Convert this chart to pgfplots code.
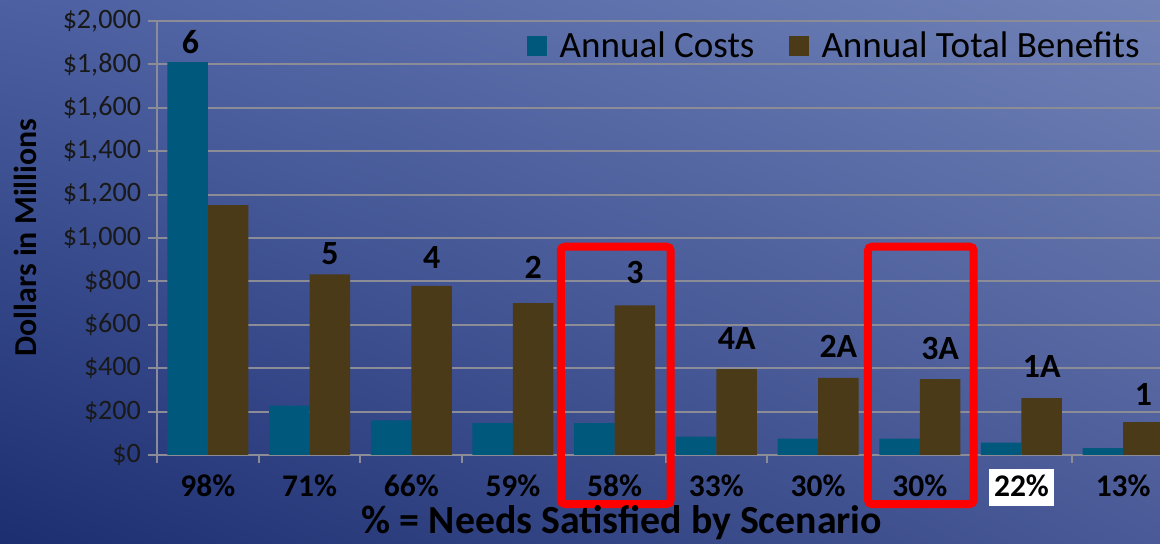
\documentclass[border=0pt]{standalone}
\usepackage{fontspec}
\setmainfont{Carlito}
\usepackage{pgfplots}
\pgfplotsset{compat=1.18}
\usetikzlibrary{shadings}
\definecolor{costc}{RGB}{0,88,125}
\definecolor{benc}{RGB}{74,58,24}
\definecolor{gridc}{RGB}{140,140,150}
\definecolor{bgul}{RGB}{76,96,162}
\definecolor{bgur}{RGB}{112,130,182}
\definecolor{bgll}{RGB}{28,46,112}
\definecolor{bglr}{RGB}{74,90,152}
\setlength{\fboxsep}{2.5bp}
\begin{document}
\begin{tikzpicture}
\path[use as bounding box] (0,0) rectangle (580bp,272bp);
\shade[upper left=bgul, upper right=bgur, lower left=bgll, lower right=bglr] (0,0) rectangle (580bp,272bp);
\begin{axis}[
  at={(78.5bp,44.5bp)}, anchor=south west,
  scale only axis, width=501.5bp, height=217bp,
  ymin=0, ymax=2000, xmin=-0.5, xmax=9.362,
  ybar=0pt, bar width=20.25bp,
  axis x line*=bottom, axis y line*=left,
  axis line style={draw=gridc, line width=1bp, -},
  ytick={0,200,...,2000},
  yticklabels={{\$0},{\$200},{\$400},{\$600},{\$800},{\$1,000},{\$1,200},{\$1,400},{\$1,600},{\$1,800},{\$2,000}},
  ymajorgrids, grid style={draw=gridc, line width=1bp},
  tick align=outside,
  major tick length=4.5bp,
  minor tick length=4bp,
  y tick style={draw=gridc, line width=1bp},
  xtick={0,...,9},
  major x tick style={draw=none},
  minor xtick={-0.5,0.5,...,9.5},
  minor x tick style={draw=gridc, line width=1bp},
  xticklabels={98\%,71\%,66\%,59\%,58\%,33\%,30\%,30\%,\colorbox{white}{\rule[-2.5bp]{0pt}{11.7bp}22\%},13\%},
  xticklabel style={font=\bfseries\fontsize{15.8}{18}\selectfont, text=black, anchor=base, yshift=-16bp},
  yticklabel style={font=\fontsize{14.1}{16}\selectfont, text=black!90},
  legend style={at={(0.99,0.942)}, anchor=east, draw=none, fill=none,
    font=\fontsize{18.6}{20}\selectfont, legend columns=2,
    /tikz/every even column/.append style={column sep=15bp}},
  legend image code/.code={\fill[#1] (0bp,-5bp) rectangle (10bp,5bp); \path (14.5bp,0bp);},
]
\addplot[fill=costc, draw=none] coordinates {(0,1810) (1,227) (2,160) (3,147) (4,147) (5,85) (6,76) (7,76) (8,57) (9,32)};
\addplot[fill=benc, draw=none] coordinates {(0,1152) (1,832) (2,779) (3,700) (4,690) (5,396) (6,355) (7,350) (8,262) (9,151)};
\legend{Annual Costs, Annual Total Benefits}
\begin{scope}[every node/.style={font=\bfseries\fontsize{17}{17}\selectfont, text=black}]
\node at (axis cs:-0.17,1903) {6};
\node at (axis cs:1.2,926) {5};
\node at (axis cs:2.2,908) {4};
\node at (axis cs:3.2,866) {2};
\node at (axis cs:4.2,839) {3};
\node at (axis cs:5.2,539) {4A};
\node at (axis cs:6.2,502) {2A};
\node at (axis cs:7.2,493) {3A};
\node at (axis cs:8.2,406) {1A};
\node at (axis cs:9.2,281) {1};
\end{scope}
\coordinate (b1a) at (axis cs:3.47,960);
\coordinate (b1b) at (axis cs:4.55,-226);
\coordinate (b2a) at (axis cs:6.49,960);
\coordinate (b2b) at (axis cs:7.53,-226);
\end{axis}
\draw[red, line width=4bp, rounded corners=2bp] (b1a) rectangle (b1b);
\draw[red, line width=4bp, rounded corners=2bp] (b2a) rectangle (b2b);
\node[font=\bfseries\fontsize{16}{16}\selectfont, rotate=90, text=black] at (12.5bp,153.25bp) {Dollars in Millions};
\node[font=\bfseries\fontsize{20}{20}\selectfont, text=black, anchor=base] at (311bp,5.2bp) {\% = Needs Satisfied by Scenario};
\end{tikzpicture}
\end{document}
